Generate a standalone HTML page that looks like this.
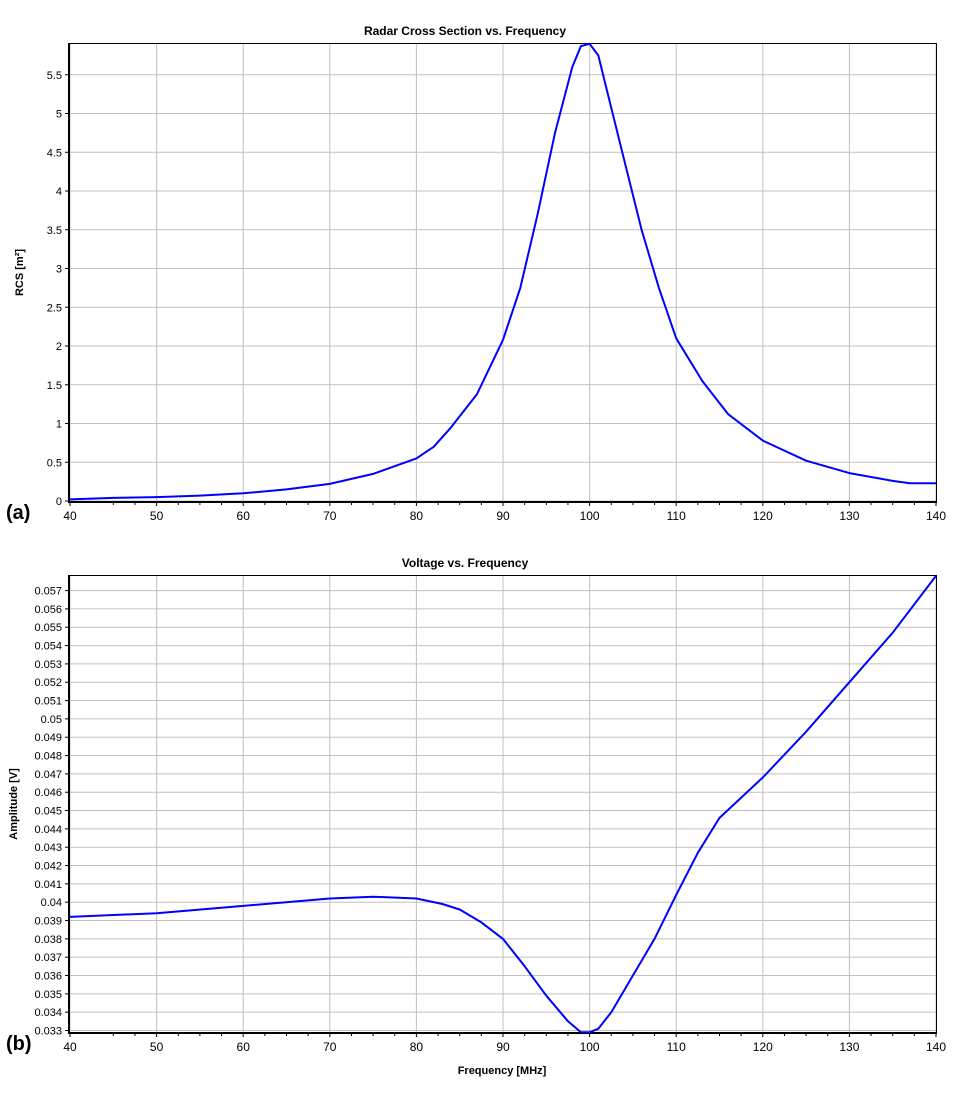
<!DOCTYPE html>
<html><head><meta charset="utf-8"><style>
body{margin:0;background:#fff;font-family:"Liberation Sans",sans-serif}
svg text{font-family:"Liberation Sans",sans-serif}
</style></head><body>
<svg id="svg" width="968" height="1088" xmlns="http://www.w3.org/2000/svg"></svg>
<script>
const rcsFreq=[40,45,50,55,60,65,70,75,80,82,84,87,90,92,94,96,98,99,100,101,102,104,106,108,110,113,116,120,125,130,135,137,140];
const rcsVals=[0.02,0.04,0.05,0.07,0.1,0.15,0.22,0.35,0.55,0.7,0.95,1.38,2.08,2.75,3.7,4.75,5.6,5.87,5.9,5.75,5.3,4.4,3.5,2.75,2.1,1.55,1.12,0.78,0.52,0.36,0.26,0.23,0.23];
const vFreq=[40,50,60,70,75,80,83,85,87.5,90,92.5,95,97.5,99,100,101,102.5,105,107.5,110,112.5,115,120,125,130,135,140];
const vVals=[0.0392,0.0394,0.0398,0.0402,0.0403,0.0402,0.0399,0.0396,0.0389,0.0380,0.0365,0.0349,0.0335,0.0329,0.0329,0.0331,0.0340,0.0360,0.0380,0.0404,0.0427,0.0446,0.0468,0.0493,0.0520,0.0547,0.0578];
const xTicks=[40,50,60,70,80,90,100,110,120,130,140];
const rcsTicks=[0,0.5,1,1.5,2,2.5,3,3.5,4,4.5,5,5.5];
const vTicks=[];for(let i=33;i<=57;i++)vTicks.push(i/1000);

const svg=document.getElementById('svg');const NS='http://www.w3.org/2000/svg';
function el(t,a,p){const e=document.createElementNS(NS,t);for(const k in a)e.setAttribute(k,a[k]);(p||svg).appendChild(e);return e;}
const X=v=>70+(v-40)*(866/100);

function chart(cfg){
  const g=el('g',{});
  
  
  const Y=cfg.Y;
  // grid
  xTicks.forEach(t=>{const l=el('line',{x1:X(t),x2:X(t),y1:cfg.top,y2:cfg.bot,stroke:'#c0c0c0','stroke-width':1},g);
    
    const tx=el('text',{x:X(t),y:cfg.bot+18,'font-size':12,'text-anchor':'middle'},g);tx.textContent=t;
    
    el('line',{x1:X(t),x2:X(t),y1:cfg.bot,y2:cfg.bot+4,stroke:'#000'},g);
  });
  for(let m=45;m<140;m+=2.5){if(m%10)el('line',{x1:X(m),x2:X(m),y1:cfg.bot,y2:cfg.bot+3,stroke:'#000'},g);}
  cfg.ticks.forEach(t=>{const y=Y(t);
    const l=el('line',{x1:70,x2:936,y1:y,y2:y,stroke:'#c0c0c0','stroke-width':1},g);
    
    el('line',{x1:65,x2:70,y1:y,y2:y,stroke:'#000'},g);
    const tx=el('text',{x:62,y:y+4,'font-size':11,'text-anchor':'end'},g);tx.textContent=cfg.fmt(t);
    
  });
  const fr=el('rect',{x:69.5,y:cfg.top+0.5,width:867,height:cfg.bot-cfg.top-1,fill:'none',stroke:'#000','stroke-width':1},g);
  
  el('line',{x1:69,x2:69,y1:cfg.top,y2:cfg.bot+1,stroke:'#000','stroke-width':2},g);
  el('line',{x1:68,x2:937,y1:cfg.bot,y2:cfg.bot,stroke:'#000','stroke-width':2},g);
  const pts=cfg.xs.map((f,i)=>X(f).toFixed(1)+','+Y(cfg.ys[i]).toFixed(1)).join(' ');
  const pl=el('polyline',{points:pts,fill:'none',stroke:'#0000ff','stroke-width':2,'stroke-linejoin':'round'},g);
  
  const ti=el('text',{x:465,y:cfg.top-8,'font-size':12,'font-weight':'bold','text-anchor':'middle'},g);ti.textContent=cfg.title;
  
  const yt=el('text',{x:0,y:0,'font-size':11,'font-weight':'bold','text-anchor':'middle',transform:`translate(${cfg.ytx},${(cfg.top+cfg.bot)/2}) rotate(-90)`},g);yt.textContent=cfg.ytitle;
  
  const pn=el('text',{x:6,y:cfg.bot+17,'font-size':20,'font-weight':'bold'},g);pn.textContent=cfg.panel;
  
}
chart({name:'rcs-chart',top:43,bot:502,Y:v=>501-v*77.5,ticks:rcsTicks,fmt:t=>String(t),xs:rcsFreq,ys:rcsVals,lineName:'rcs-line',title:'Radar Cross Section vs. Frequency',ytitle:'RCS [m²]',ytx:23,panel:'(a)'});
chart({name:'voltage-chart',top:575,bot:1033,Y:v=>1030.5-(v-0.033)*18330,ticks:vTicks,fmt:t=>String(+t.toFixed(3)),xs:vFreq,ys:vVals,lineName:'voltage-line',title:'Voltage vs. Frequency',ytitle:'Amplitude [V]',ytx:17,panel:'(b)'});
const xt=el('text',{x:502,y:1074,'font-size':11,'font-weight':'bold','text-anchor':'middle'});xt.textContent='Frequency [MHz]';


</script>
</body></html>
